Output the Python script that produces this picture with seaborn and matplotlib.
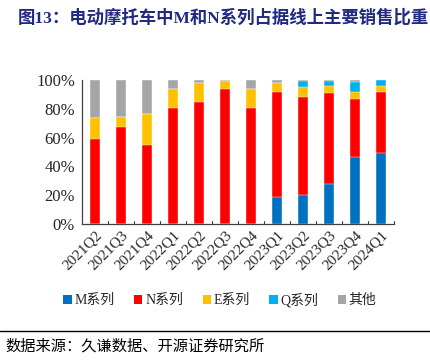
import matplotlib
matplotlib.use("Agg")
import matplotlib.pyplot as plt
import seaborn as sns
import numpy as np
import pandas as pd
from matplotlib.patches import Patch
from matplotlib.lines import Line2D

quarters = ["2021Q2", "2021Q3", "2021Q4", "2022Q1", "2022Q2", "2022Q3", "2022Q4",
            "2023Q1", "2023Q2", "2023Q3", "2023Q4", "2024Q1"]
m_series = [0, 0, 0, 0, 0, 0, 0, 18.7, 20.1, 28.1, 46.4, 49.4]
n_series = [59.0, 67.6, 55.0, 80.4, 85.0, 93.8, 80.4, 73.2, 67.9, 63.1, 40.6, 42.5]
e_series = [14.9, 6.8, 21.6, 13.4, 12.9, 5.5, 13.4, 5.8, 6.9, 4.6, 4.7, 3.9]
q_series = [0, 0, 0, 0, 0, 0, 0, 0, 4.4, 3.5, 7.1, 4.2]
other = [100 - a - b - c - d for a, b, c, d in zip(m_series, n_series, e_series, q_series)]

names = ["M系列", "N系列", "E系列", "Q系列", "其他"]
colors = ["#0070C0", "#FF0000", "#FFC000", "#00B0F0", "#A5A5A5"]
series = [m_series, n_series, e_series, q_series, other]

sns.set_style("white")
plt.rcParams['font.family'] = ['Liberation Serif', 'Noto Sans CJK SC', 'DejaVu Sans']

fig = plt.figure(figsize=(4.30, 3.63), dpi=100)
ax = fig.add_axes([82/430, 1 - 224/363, (394 - 82)/430, (224 - 80)/363])

cum = np.cumsum(np.array(series), axis=0)
for i in range(len(series) - 1, -1, -1):
    df = pd.DataFrame({"q": quarters, "v": cum[i]})
    sns.barplot(data=df, x="q", y="v", color=colors[i], width=0.42,
                saturation=1, ax=ax, edgecolor="white", linewidth=0.3)

ax.set_ylim(0, 100)
ax.set_xlim(-0.5, len(quarters) - 0.5)
ax.set_yticks(range(0, 101, 20))
ax.set_yticklabels([f"{v}%" for v in range(0, 101, 20)], fontsize=12,
                   family='Liberation Serif')
ax.set_xticks(range(len(quarters)))
ax.set_xticklabels(quarters, rotation=45, ha="right", rotation_mode="anchor",
                   fontsize=11, family='Liberation Serif')
ax.tick_params(axis="x", length=0, pad=3)
ax.tick_params(axis="y", length=3, direction="out", width=0.8, pad=2)
for b in np.arange(0.5, len(quarters), 1.0):
    ax.plot([b, b], [0, 1.8], color="#404040", lw=0.8, clip_on=False)
ax.set_xlabel("")
ax.set_ylabel("")
for s in ["top", "right"]:
    ax.spines[s].set_visible(False)
for s in ["left", "bottom"]:
    ax.spines[s].set_color("#404040")
    ax.spines[s].set_linewidth(0.9)

handles = [Patch(facecolor=c, edgecolor="none") for c in colors]
fig.legend(handles, names, loc="center", bbox_to_anchor=(220/430, 1 - 300/363),
           ncol=5, frameon=False, handlelength=0.6, handleheight=0.6,
           handletextpad=0.2, columnspacing=1.4,
           prop={'family': ['Liberation Serif', 'Noto Sans CJK SC'], 'size': 10})

fig.text(18/430, 1 - 18/363, "图13：电动摩托车中M和N系列占据线上主要销售比重",
         fontsize=12.5, fontweight="bold", color="#1F2A80", va="center",
         family=['Liberation Serif', 'Noto Sans CJK SC'])
fig.add_artist(Line2D([0, 1], [1 - 331/363, 1 - 331/363], color="black", lw=1.0))
fig.text(5/430, 1 - 346/363, "数据来源：久谦数据、开源证券研究所", fontsize=11,
         color="black", va="center", family=['Noto Sans CJK SC'])

fig.savefig("out.png", dpi=100)
